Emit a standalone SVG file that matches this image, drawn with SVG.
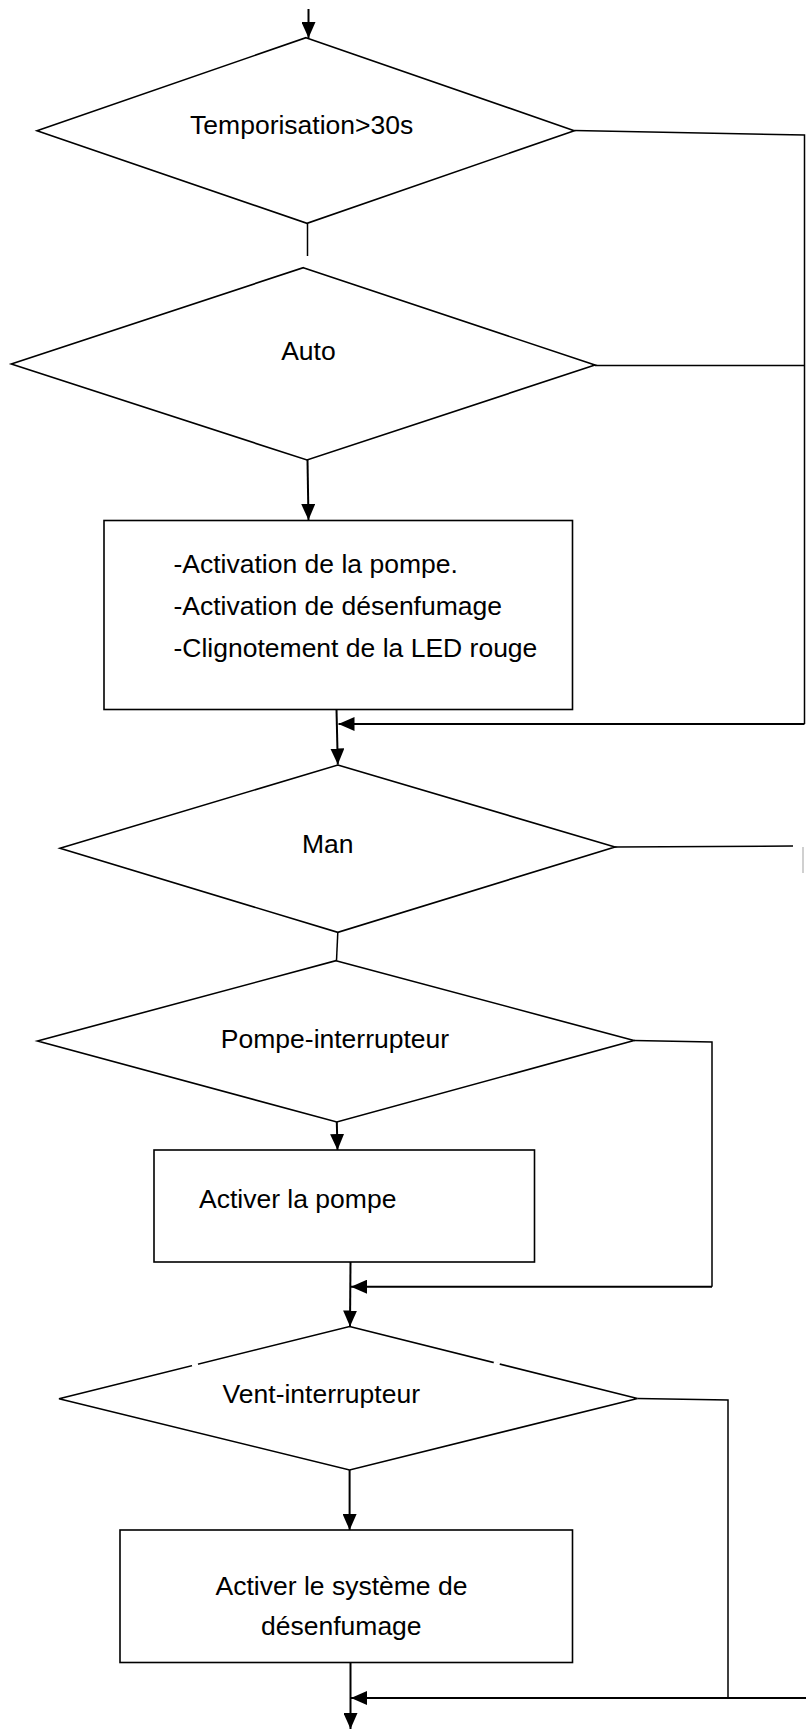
<svg xmlns="http://www.w3.org/2000/svg" width="806" height="1729" viewBox="0 0 806 1729">
<defs>
<marker id="ah" viewBox="0 0 16 14" refX="16" refY="7" markerWidth="16" markerHeight="14" markerUnits="userSpaceOnUse" orient="auto">
<path d="M0,0 L16,7 L0,14 Z" fill="#000"/>
</marker>
<style>
.shape{fill:#fff;stroke:#000;stroke-width:1.6}
.line{fill:none;stroke:#000;stroke-width:1.5}
.arr{fill:none;stroke:#000;stroke-width:2}
.t{font-family:"Liberation Sans",Arial,sans-serif;font-size:26.5px;fill:#000}
.c{text-anchor:middle}
</style>
</defs>
<rect width="806" height="1729" fill="#fff"/>
<g id="connectors">
<line class="arr" x1="308.5" y1="9" x2="308.5" y2="38" marker-end="url(#ah)"/>
<polyline class="line" points="574.3,130.5 804.5,135 804.5,724"/>
<line class="line" x1="307.5" y1="223.3" x2="307.5" y2="256"/>
<line class="line" x1="595" y1="365.5" x2="804.5" y2="365.5"/>
<line class="arr" x1="307.5" y1="460" x2="308.5" y2="520" marker-end="url(#ah)"/>
<line class="arr" x1="804.5" y1="724" x2="338.5" y2="724" marker-end="url(#ah)"/>
<line class="arr" x1="336.5" y1="709.5" x2="337.8" y2="764.5" marker-end="url(#ah)"/>
<line class="line" x1="615" y1="847" x2="793" y2="846"/>
<line x1="803" y1="847" x2="803" y2="873" stroke="#d0d0d0" stroke-width="2"/>
<line class="line" x1="337.8" y1="932.3" x2="336.5" y2="960.7"/>
<line class="arr" x1="336.8" y1="1122" x2="337.5" y2="1150" marker-end="url(#ah)"/>
<polyline class="line" points="634,1040.5 712,1042 712,1286.7"/>
<line class="arr" x1="712" y1="1286.7" x2="351" y2="1286.7" marker-end="url(#ah)"/>
<line class="arr" x1="350.5" y1="1262" x2="350" y2="1326.5" marker-end="url(#ah)"/>
<polyline class="line" points="637.5,1398.5 728,1400 728,1698"/>
<line class="arr" x1="349.6" y1="1470" x2="349.6" y2="1530" marker-end="url(#ah)"/>
<line class="arr" x1="806" y1="1698" x2="351" y2="1698" marker-end="url(#ah)"/>
<line class="arr" x1="350.5" y1="1662.5" x2="350.5" y2="1729" marker-end="url(#ah)"/>
</g>
<g id="d-temporisation">
<polygon class="shape" points="306,37.7 574.3,130.7 307,223.3 37,130.7"/>
<text class="t c" x="301.7" y="134.3">Temporisation&gt;30s</text>
</g>
<g id="d-auto">
<polygon class="shape" points="303.3,267.7 595,365 307,460 11.3,364"/>
<text class="t c" x="308.4" y="360">Auto</text>
</g>
<g id="p-activation">
<rect class="shape" x="104" y="520.5" width="468.5" height="189"/>
<text class="t" x="173.5" y="573">-Activation de la pompe.</text>
<text class="t" x="173.5" y="615">-Activation de désenfumage</text>
<text class="t" x="173.5" y="657">-Clignotement de la LED rouge</text>
</g>
<g id="d-man">
<polygon class="shape" points="337.8,765 615,847 337.8,932.3 60,848.3"/>
<text class="t c" x="327.8" y="852.7">Man</text>
</g>
<g id="d-pompe">
<polygon class="shape" points="336,960.7 634,1040.5 336.8,1122 37.5,1041"/>
<text class="t c" x="335" y="1047.5">Pompe-interrupteur</text>
</g>
<g id="p-pompe">
<rect class="shape" x="154" y="1150" width="380.5" height="112"/>
<text class="t" x="199" y="1207.5">Activer la pompe</text>
</g>
<g id="d-vent">
<polygon class="shape" points="349.6,1326.5 637.5,1398.5 349.6,1470 59,1398.7"/>
<line x1="192" y1="1365.7" x2="198" y2="1364.2" stroke="#fff" stroke-width="3"/>
<line x1="493.7" y1="1362.6" x2="499.7" y2="1364.1" stroke="#fff" stroke-width="3"/>
<text class="t c" x="321.3" y="1403.3">Vent-interrupteur</text>
</g>
<g id="p-vent">
<rect class="shape" x="120" y="1530" width="452.5" height="132.5"/>
<text class="t c" x="341.5" y="1595">Activer le système de</text>
<text class="t c" x="341.3" y="1635">désenfumage</text>
</g>
</svg>
